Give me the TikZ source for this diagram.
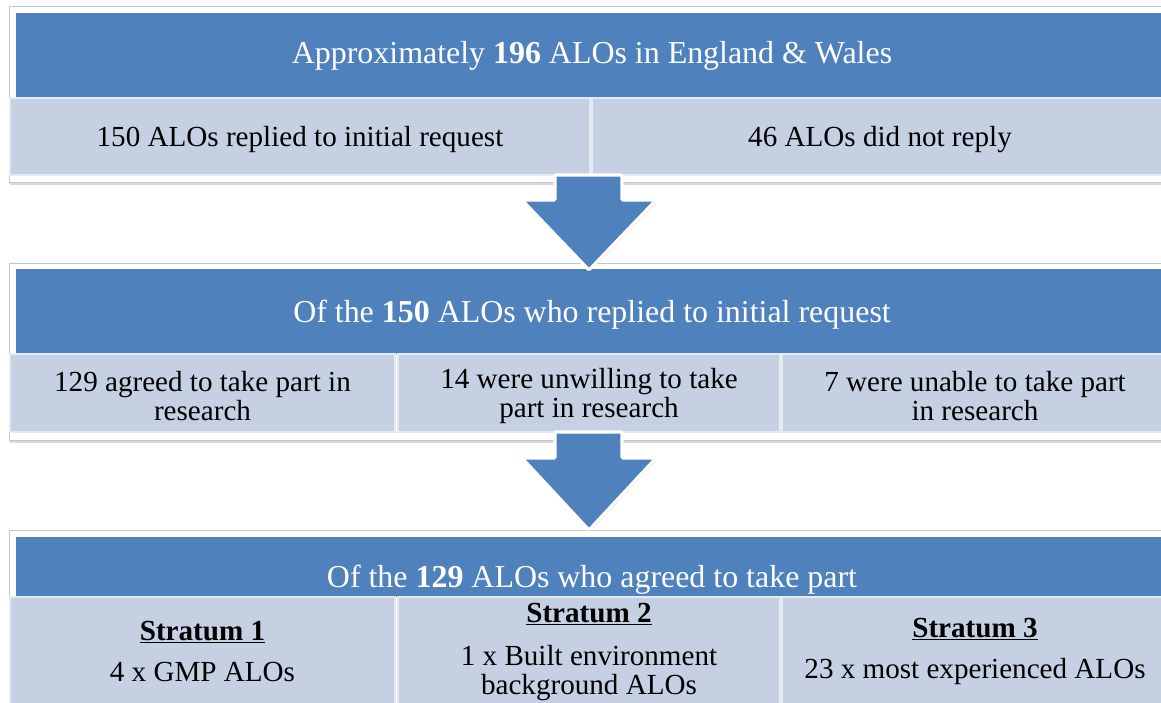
\documentclass[tikz,border=0pt]{standalone}
\usepackage{fontspec}
\setmainfont{Liberation Serif}
\usetikzlibrary{fit,shadows}
\definecolor{hdrblue}{HTML}{4F81BD}
\definecolor{cellblue}{HTML}{C5D0E3}
\begin{document}
\begin{tikzpicture}[x=0.025cm,y=-0.025cm,
 panel/.style={draw=black!22,fill=white,inner sep=0,drop shadow={opacity=0.3,shadow xshift=1pt,shadow yshift=-2pt}},
 hdr/.style={fill=hdrblue,inner sep=0},
 hdrtext/.style={text=white,font=\rmfamily\fontsize{22.7}{26}\selectfont},
 cell/.style={fill=cellblue,draw=white!55!cellblue,line width=1pt,inner sep=0},
 celltext/.style={align=center,font=\rmfamily\fontsize{20.7}{20.6}\selectfont},
 blockarrow/.style={fill=hdrblue,draw=white,line width=2.2pt,rounded corners=0.8pt,drop shadow={opacity=0.25,shadow xshift=0.6pt,shadow yshift=-1.5pt}}]
 \useasboundingbox (0,0) rectangle (1161,702);
 \clip (0,0) rectangle (1161,702);
 % first panel
 \node[panel,fit={(9,6)(1168,182)}] (frameA) {};
 \node[hdr,fit={(16,13)(1168,98)},label={[hdrtext,yshift=-0.02cm]center:Approximately \textbf{196} ALOs in England \& Wales}] (hdrA) {};
 \node[cell,fit={(10,98)(590,175)},label={[celltext,yshift=-0.08cm]center:150 ALOs replied to initial request}] (cellA1) {};
 \node[cell,fit={(592,98)(1168,175)},label={[celltext,yshift=-0.08cm]center:46 ALOs did not reply}] (cellA2) {};
 % second panel
 \node[panel,fit={(9,263)(1168,440)}] (frameB) {};
 \node[hdr,fit={(16,269)(1168,354)},label={[hdrtext,yshift=-0.07cm]center:Of the \textbf{150} ALOs who replied to initial request}] (hdrB) {};
 \node[cell,fit={(10,354)(395,432)},label={[celltext,yshift=-0.07cm]center:129 agreed to take part in\\research}] (cellB1) {};
 \node[cell,fit={(398,354)(780,432)},label={[celltext,yshift=-0.07cm]center:14 were unwilling to take\\part in research}] (cellB2) {};
 \node[cell,fit={(782,354)(1168,432)},label={[celltext,yshift=-0.07cm]center:7 were unable to take part\\in research}] (cellB3) {};
 % third panel
 \node[panel,fit={(9,530)(1168,720)}] (frameC) {};
 \node[hdr,fit={(16,537)(1168,597)},label={[hdrtext,yshift=-0.32cm]center:Of the \textbf{129} ALOs who agreed to take part}] (hdrC) {};
 \node[cell,fit={(10,597)(395,710)},label={[celltext,yshift=0.05cm]center:\underline{\textbf{Stratum 1}}\\[9pt]4 x GMP ALOs}] (cellC1) {};
 \node[cell,fit={(398,597)(780,710)},label={[celltext,yshift=0.05cm]center:\underline{\textbf{Stratum 2}}\\[10pt]1 x Built environment\\background ALOs}] (cellC2) {};
 \node[cell,fit={(782,597)(1168,710)},label={[celltext,yshift=0.05cm]center:\underline{\textbf{Stratum 3}}\\[9pt]23 x most experienced ALOs}] (cellC3) {};
 % arrows
 \draw[blockarrow] (555,175) -- (622,175) -- (622,200) -- (656,200) -- (589,270) -- (522,200) -- (555,200) -- cycle;
 \draw[blockarrow] (555,432) -- (622,432) -- (622,458) -- (656,458) -- (589,530) -- (522,458) -- (555,458) -- cycle;
\end{tikzpicture}
\end{document}
